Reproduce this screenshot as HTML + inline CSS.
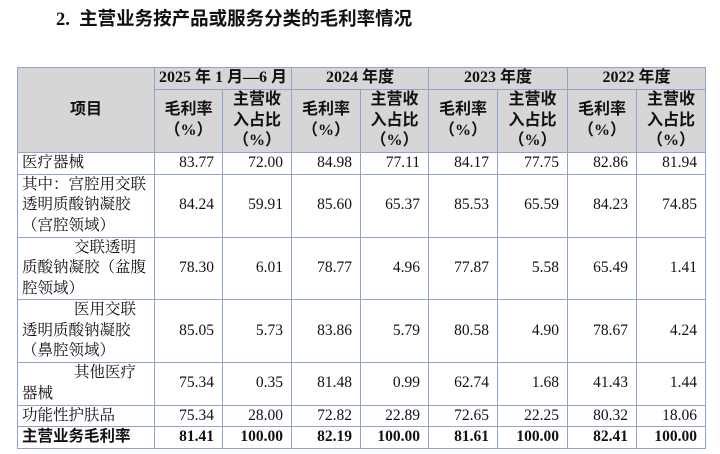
<!DOCTYPE html>
<html><head><meta charset="utf-8"><style>
body{margin:0;width:720px;height:454px;background:#fff;position:relative;overflow:hidden;font-family:"Liberation Serif","Noto Serif CJK SC",serif;color:#111}
.t{position:absolute;left:56px;top:5px;font-size:18.5px;font-weight:bold;font-family:"Liberation Serif","Noto Sans CJK SC",sans-serif}
table{position:absolute;left:17px;top:67px;border-collapse:collapse;table-layout:fixed}
td{border:1px solid #8ea5c6;padding:0 8px 0 4px;font-size:15.5px;line-height:20.5px;text-align:right;overflow:hidden;white-space:nowrap}
tr.h td{background:#d6d6d6;font-weight:bold;text-align:center;padding:0;font-size:16px;font-family:"Liberation Serif","Noto Sans CJK SC",sans-serif}
td.l{text-align:left;padding-left:4px}
tr.b td{font-weight:bold}
tr.b td.l{font-family:"Liberation Serif","Noto Sans CJK SC",sans-serif}
.i{display:inline-block;width:52px}
</style></head><body>
<div class="t">2.&nbsp;&nbsp;主营业务按产品或服务分类的毛利率情况</div>
<table>
<colgroup><col style="width:137px"><col style="width:68px"><col style="width:69px"><col style="width:69px"><col style="width:68px"><col style="width:69px"><col style="width:70px"><col style="width:69px"><col style="width:69px"></colgroup>
<tr class="h" style="height:22px"><td rowspan="2">项目</td><td colspan="2">2025 年 1 月—6 月</td><td colspan="2">2024 年度</td><td colspan="2">2023 年度</td><td colspan="2">2022 年度</td></tr>
<tr class="h" style="height:61px"><td>毛利率<br>（%）</td><td>主营收<br>入占比<br>（%）</td><td>毛利率<br>（%）</td><td>主营收<br>入占比<br>（%）</td><td>毛利率<br>（%）</td><td>主营收<br>入占比<br>（%）</td><td>毛利率<br>（%）</td><td>主营收<br>入占比<br>（%）</td></tr>
<tr style="height:22px"><td class="l">医疗器械</td><td>83.77</td><td>72.00</td><td>84.98</td><td>77.11</td><td>84.17</td><td>77.75</td><td>82.86</td><td>81.94</td></tr>
<tr style="height:63px"><td class="l">其中：宫腔用交联<br>透明质酸钠凝胶<br>（宫腔领域）</td><td>84.24</td><td>59.91</td><td>85.60</td><td>65.37</td><td>85.53</td><td>65.59</td><td>84.23</td><td>74.85</td></tr>
<tr style="height:61px"><td class="l"><span class="i"></span>交联透明<br>质酸钠凝胶（盆腹<br>腔领域）</td><td>78.30</td><td>6.01</td><td>78.77</td><td>4.96</td><td>77.87</td><td>5.58</td><td>65.49</td><td>1.41</td></tr>
<tr style="height:61px"><td class="l"><span class="i"></span>医用交联<br>透明质酸钠凝胶<br>（鼻腔领域）</td><td>85.05</td><td>5.73</td><td>83.86</td><td>5.79</td><td>80.58</td><td>4.90</td><td>78.67</td><td>4.24</td></tr>
<tr style="height:43px"><td class="l"><span class="i"></span>其他医疗<br>器械</td><td>75.34</td><td>0.35</td><td>81.48</td><td>0.99</td><td>62.74</td><td>1.68</td><td>41.43</td><td>1.44</td></tr>
<tr style="height:21px"><td class="l">功能性护肤品</td><td>75.34</td><td>28.00</td><td>72.82</td><td>22.89</td><td>72.65</td><td>22.25</td><td>80.32</td><td>18.06</td></tr>
<tr class="b" style="height:21px"><td class="l">主营业务毛利率</td><td>81.41</td><td>100.00</td><td>82.19</td><td>100.00</td><td>81.61</td><td>100.00</td><td>82.41</td><td>100.00</td></tr>
</table>
</body></html>
